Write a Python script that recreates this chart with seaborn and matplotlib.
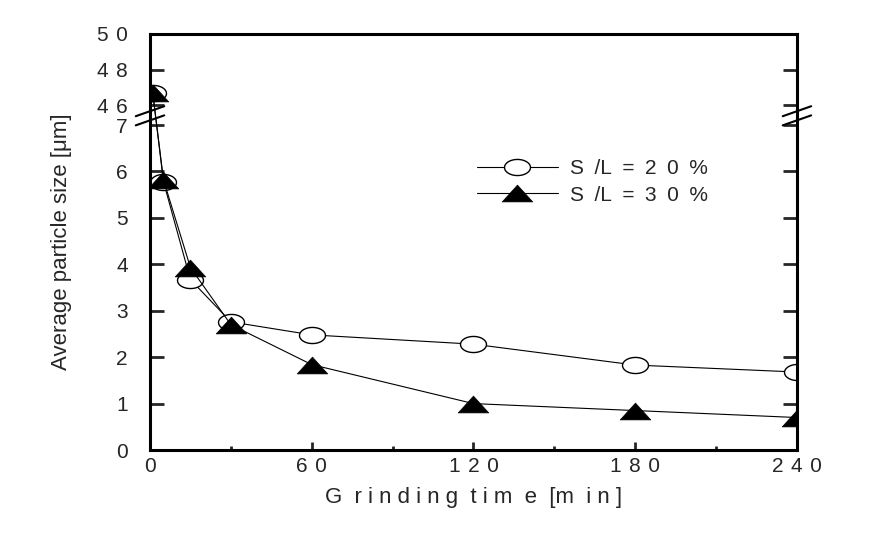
import matplotlib
matplotlib.use('Agg')
import matplotlib.pyplot as plt
import seaborn as sns
import numpy as np
import pandas as pd
from matplotlib.path import Path

# Dados
tempo = [1, 5, 15, 30, 60, 120, 180, 240]
sl_20 = [46.7, 5.78, 3.67, 2.76, 2.48, 2.28, 1.83, 1.68]
sl_30 = [46.7, 5.82, 3.93, 2.70, 1.84, 1.00, 0.85, 0.70]
rotulos = ["S\u2002/L\u2002=\u20022\u20020\u2002%", "S\u2002/L\u2002=\u20023\u20020\u2002%"]

sp = " \u200a"  # espaço largo entre dígitos
y_ticks = [0, 1, 2, 3, 4, 5, 6, 7, 46, 48, 50]
y_labels = ["0", "1", "2", "3", "4", "5", "6", "7",
            "4" + sp + "6", "4" + sp + "8", "5" + sp + "0"]
x_ticks = [0, 60, 120, 180, 240]
x_labels = ["0", "6" + sp + "0", sp.join("120"), sp.join("180"), sp.join("240")]
x_minor = [30, 90, 150, 210]

df = pd.DataFrame({"tempo": tempo, "sl20": sl_20, "sl30": sl_30})

sns.set_style("ticks")
plt.rcParams['font.family'] = ['Liberation Sans', 'DejaVu Sans']

# Escala com quebra: 0-7 normal, 7-46 comprimido, 46-50 reduzido
src = [-100, 7, 46, 200]
dst = [-100, 7, 7.431, 7.431 + 154 * 0.3825]


def fwd(y):
    return np.interp(y, src, dst)


def inv(y):
    return np.interp(y, dst, src)


# Marcadores (elipse e triângulo achatado)
th = np.linspace(0, 2 * np.pi, 80)
elipse = Path(np.column_stack([0.5 * np.cos(th), 0.31 * np.sin(th)]))
triang = Path([(-0.5, -0.275), (0.5, -0.275), (0, 0.275), (-0.5, -0.275)],
              [Path.MOVETO, Path.LINETO, Path.LINETO, Path.CLOSEPOLY])

fig = plt.figure(figsize=(8.71, 5.42), dpi=100)
ax = fig.add_axes([0.1722, 0.1697, 0.7428, 0.7676])

sns.lineplot(data=df, x="tempo", y="sl20", ax=ax, color="black", lw=0.8,
             marker=elipse, ms=18.7, mfc="white", mec="black", mew=1.0,
             label=rotulos[0])
sns.lineplot(data=df, x="tempo", y="sl30", ax=ax, color="black", lw=0.8,
             marker=triang, ms=22, mfc="black", mec="black", mew=0.5,
             label=rotulos[1])

ax.set_yscale('function', functions=(fwd, inv))
ax.set_ylim(0, 50)
ax.set_xlim(0, 240)

ax.set_yticks(y_ticks)
ax.set_yticklabels(y_labels)
ax.set_xticks(x_ticks)
ax.set_xticklabels(x_labels)
ax.set_xticks(x_minor, minor=True)
ax.yaxis.set_minor_locator(matplotlib.ticker.NullLocator())

ax.tick_params(axis='y', which='major', direction='in', length=10, width=2,
               labelsize=15, pad=16, left=True, right=True)
ax.tick_params(axis='x', which='major', direction='in', length=6, width=2,
               labelsize=15, pad=5, top=False)
ax.tick_params(axis='x', which='minor', direction='in', length=3, width=2,
               top=False)

for s in ax.spines.values():
    s.set_linewidth(2.2)
    s.set_color("black")

ax.set_xlabel("G  r i n d i n g  t i m  e  [m  i n ]",
              fontsize=16, labelpad=8)
ax.set_ylabel("Average particle size [\u03bcm]", fontsize=16, labelpad=18)

# Marcas de quebra nos dois eixos y
yb = (fwd(25.0) - fwd(0)) / (fwd(50) - fwd(0))
for xb in (0, 1):
    for dy in (-0.011, 0.011):
        ax.plot([xb - 0.022, xb + 0.022], [yb + dy - 0.012, yb + dy + 0.012],
                transform=ax.transAxes, color="black", lw=1.5, clip_on=False)

ax.legend(loc='center left', bbox_to_anchor=(0.505, 0.644), frameon=False,
          fontsize=15, handlelength=3.9, handletextpad=0.6, labelspacing=0.35,
          borderpad=0, borderaxespad=0)

plt.savefig("out.png", dpi=100)
